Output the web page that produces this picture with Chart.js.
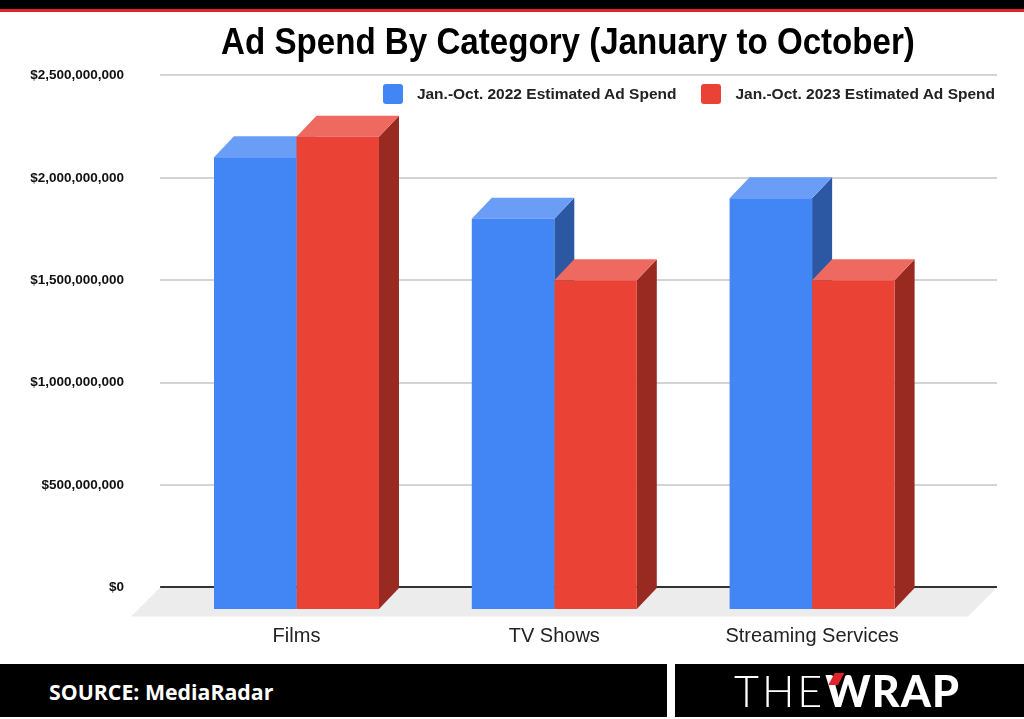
<!DOCTYPE html>
<html>
<head>
<meta charset="utf-8">
<script src="https://cdn.jsdelivr.net/npm/chart.js@4.4.1/dist/chart.umd.min.js"></script>
<style>
  html, body { margin: 0; padding: 0; background: #fff; }
  body { width: 1024px; height: 719px; position: relative; overflow: hidden; font-family: "Liberation Sans", Arial, sans-serif; }
  #chart-wrap { position: absolute; left: 0; top: 0; width: 1024px; height: 719px; }
  .bar-black { position: absolute; left: 0; top: 0; width: 1024px; height: 9px; background: #000; }
  .bar-red { position: absolute; left: 0; top: 9px; width: 1024px; height: 3px; background: #e0242b; }
  #title { position: absolute; left: 112px; top: 24px; width: 912px; line-height: 36px; text-align: center; font-weight: bold; font-size: 36px; color: #000; white-space: nowrap; transform: scaleX(0.92); transform-origin: 456px 0; }
  #legend { position: absolute; right: 29px; top: 84px; display: flex; align-items: center; }
  #legend .item { display: flex; align-items: center; margin-left: 25px; }
  #legend .box { width: 20px; height: 20px; border-radius: 3px; margin-right: 14px; }
  #legend .txt { font-weight: bold; font-size: 15.5px; color: #222; }
  .foot { position: absolute; top: 664px; height: 53px; background: #000; }
  #source { position: absolute; left: 49px; top: 677px; color: #fff; font-family: "Open Sans", sans-serif; font-weight: 700; font-size: 21.3px; }
  #logo { position: absolute; left: 734px; top: 664px; height: 53px; display: flex; align-items: center; font-family: Lato, sans-serif; color: #fff; font-size: 43px; }
  #logo .the { font-weight: 300; letter-spacing: 3px; }
  #logo .wrap { font-weight: 900; position: relative; letter-spacing: 1px; }
  #logo .flag { position: absolute; left: 3px; top: 8px; width: 16px; height: 12px; background: #e0242b; clip-path: polygon(40% 0, 100% 0, 60% 100%, 0 100%); }
</style>
</head>
<body>
<div id="chart-wrap"><canvas id="spend-chart"></canvas></div>
<div class="bar-black"></div>
<div class="bar-red"></div>
<div id="title">Ad Spend By Category (January to October)</div>
<div id="legend"></div>
<div class="foot" style="left:0;width:667px"></div>
<div class="foot" style="left:675px;width:349px"></div>
<div id="source">SOURCE: MediaRadar</div>
<div id="logo"><span class="the">THE</span><span class="wrap"><span class="flag"></span>WRAP</span></div>
<script>
//
// Data
//
const categories = ['Films', 'TV Shows', 'Streaming Services'];
const spend2022 = [2100000000, 1800000000, 1900000000];
const spend2023 = [2200000000, 1500000000, 1500000000];
const seriesNames = ['Jan.-Oct. 2022 Estimated Ad Spend', 'Jan.-Oct. 2023 Estimated Ad Spend'];
const yTicks = [0, 500000000, 1000000000, 1500000000, 2000000000, 2500000000];

// colours: front, top, side
const frontColors = ['#4285f4', '#ea4335'];
const topColors = ['#6a9ef6', '#ee6a60'];
const sideColors = ['#2b57a3', '#982a22'];

// 3d look
const DX = 20, DY = 21;          // bar depth
const FLOOR = 29;                // floor depth
const FLOOR_VALUE = -105500000;  // bars run down past zero to the floor front

// legend as html, built from the series
const legendEl = document.getElementById('legend');
seriesNames.forEach((name, i) => {
  const item = document.createElement('div');
  item.className = 'item';
  item.innerHTML = '<span class="box" style="background:' + frontColors[i] + '"></span><span class="txt"></span>';
  item.querySelector('.txt').textContent = name;
  legendEl.appendChild(item);
});

function poly(ctx, pts, color) {
  ctx.fillStyle = color;
  ctx.beginPath();
  ctx.moveTo(pts[0][0], pts[0][1]);
  for (let k = 1; k < pts.length; k++) ctx.lineTo(pts[k][0], pts[k][1]);
  ctx.closePath();
  ctx.fill();
}

// floor, back grid, bar tops and sides
const depth3d = {
  id: 'depth3d',
  beforeDatasetsDraw(chart) {
    const { ctx, chartArea: a, scales: { y } } = chart;
    const backL = a.left - 7.5, backR = a.right + 56;
    const y0 = y.getPixelForValue(0);
    ctx.save();
    poly(ctx, [[backL, y0], [backR, y0], [backR - FLOOR, y0 + FLOOR], [backL - FLOOR, y0 + FLOOR]], '#ececec');
    yTicks.forEach(v => {
      const py = Math.round(y.getPixelForValue(v));
      ctx.strokeStyle = v === 0 ? '#333' : '#d4d4d4';
      ctx.lineWidth = 2;
      ctx.beginPath();
      ctx.moveTo(backL, py);
      ctx.lineTo(backR, py);
      ctx.stroke();
    });
    const metas = chart.getSortedVisibleDatasetMetas();
    categories.forEach((c, i) => {
      metas.forEach((m, d) => {
        const p = m.data[i].getProps(['x', 'y', 'base', 'width'], true);
        const l = p.x - p.width / 2, r = p.x + p.width / 2;
        poly(ctx, [[r, p.y], [r + DX, p.y - DY], [r + DX, p.base - DY], [r, p.base]], sideColors[d]);
        poly(ctx, [[l, p.y], [r, p.y], [r + DX, p.y - DY], [l + DX, p.y - DY]], topColors[d]);
      });
    });
    ctx.restore();
  }
};

const data = {
  labels: categories,
  datasets: [spend2022, spend2023].map((vals, i) => ({
    label: seriesNames[i],
    data: vals,
    backgroundColor: frontColors[i],
    borderWidth: 0,
    base: FLOOR_VALUE,
    barPercentage: 1,
    categoryPercentage: 0.64
  }))
};

const config = {
  type: 'bar',
  data: data,
  plugins: [depth3d],
  options: {
    responsive: true,
    maintainAspectRatio: false,
    animation: false,
    layout: { padding: { top: 75.4, right: 83, bottom: 70, left: 0 } },
    plugins: {
      legend: { display: false },
      title: { display: false },
      tooltip: { enabled: false }
    },
    scales: {
      x: {
        grid: { display: false, drawTicks: false },
        border: { display: false },
        ticks: { padding: 15, color: '#222', font: { family: '"Liberation Sans", Arial', size: 20 } },
        afterFit(scale) { scale.height = 40; }
      },
      y: {
        min: FLOOR_VALUE,
        max: 2500000000,
        grid: { display: false, drawTicks: false },
        border: { display: false },
        afterBuildTicks(scale) { scale.ticks = yTicks.map(v => ({ value: v })); },
        afterFit(scale) { scale.width = 167.6; },
        ticks: {
          padding: 43.5,
          color: '#111',
          font: { family: '"Liberation Sans", Arial', size: 13.5, weight: 'bold' },
          callback: v => '$' + Number(v).toLocaleString('en-US')
        }
      }
    }
  }
};

const myChart = new Chart(document.getElementById('spend-chart'), config);
</script>
</body>
</html>
